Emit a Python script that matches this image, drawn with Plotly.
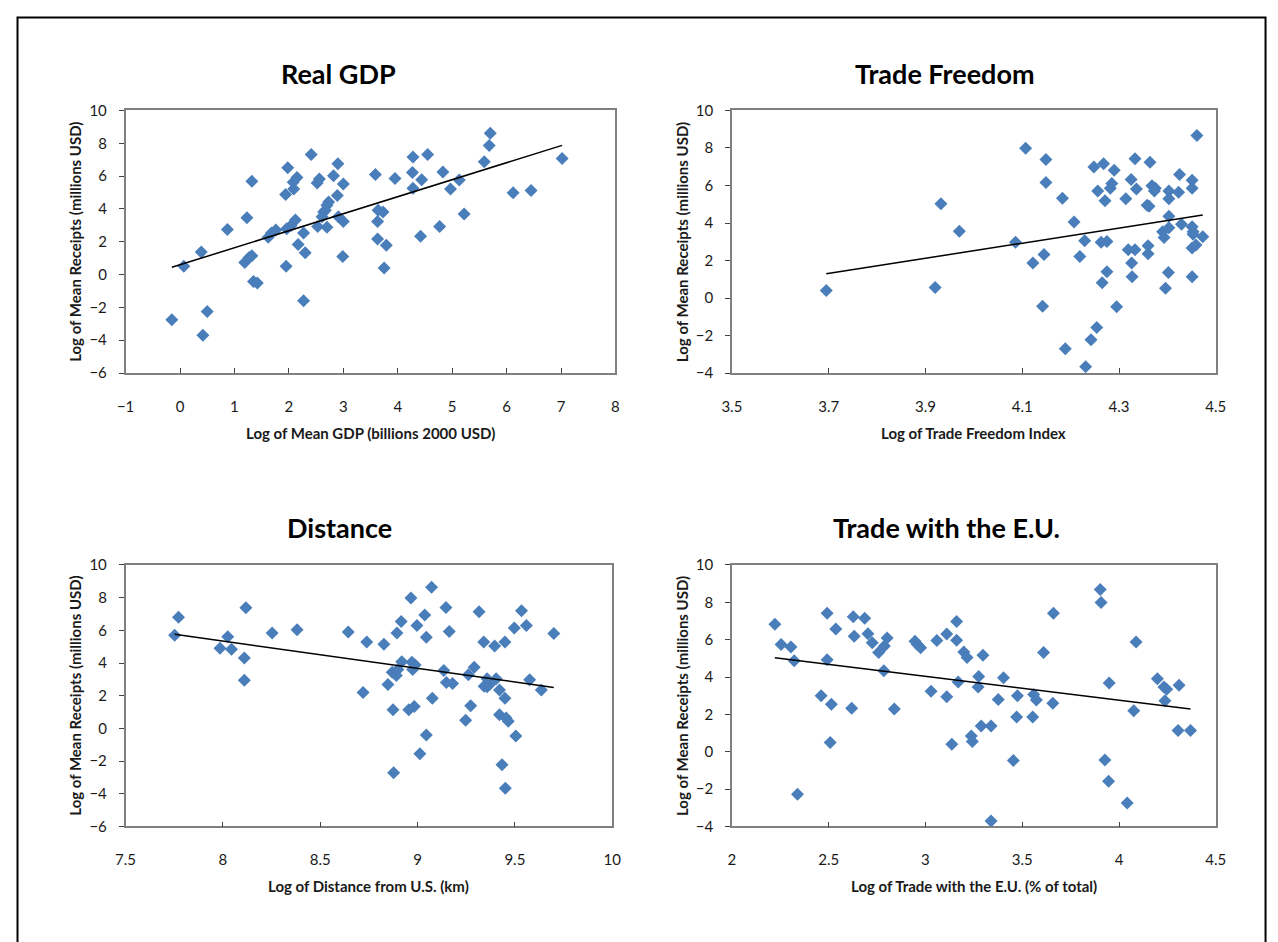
import numpy as np
import plotly.graph_objects as go

# ---------------- data ----------------
gdp_x = [-0.15, 0.07, 0.39, 0.42, 0.50, 0.87, 1.23, 1.32, 1.19, 1.27, 1.32, 1.35, 1.42, 1.62, 1.68, 1.76,
         1.95, 1.94, 1.98, 1.96, 2.04, 2.08, 2.12, 2.15, 2.09, 2.17, 2.27, 2.30, 2.27, 2.41, 2.52, 2.56,
         2.53, 2.61, 2.64, 2.67, 2.70, 2.73, 2.70, 2.82, 2.90, 2.89, 2.91, 3.00, 3.00, 2.99, 3.59, 3.64,
         3.73, 3.63, 3.63, 3.79, 3.75, 3.95, 4.28, 4.27, 4.28, 4.44, 4.42, 4.55, 4.77, 4.83, 4.97, 5.13,
         5.22, 5.59, 5.68, 5.70, 6.12, 6.45, 7.02]
gdp_y = [-2.75, 0.50, 1.37, -3.70, -2.25, 2.75, 3.47, 5.68, 0.74, 1.04, 1.14, -0.42, -0.52, 2.27, 2.53, 2.71,
         0.50, 4.88, 6.51, 2.79, 2.99, 5.62, 3.33, 5.92, 5.22, 1.83, 2.53, 1.33, -1.59, 7.31, 5.58, 5.82,
         2.93, 3.53, 3.82, 3.92, 4.22, 4.42, 2.89, 6.02, 6.75, 4.82, 3.53, 5.52, 3.23, 1.10, 6.10, 3.92,
         3.82, 3.23, 2.17, 1.79, 0.40, 5.86, 7.17, 6.22, 5.26, 5.78, 2.33, 7.31, 2.93, 6.25, 5.22, 5.76,
         3.69, 6.87, 7.87, 8.61, 4.98, 5.12, 7.07]

tf_x = [3.695, 3.920, 3.932, 3.970, 4.107, 4.149, 4.149, 4.086, 4.122, 4.145, 4.142, 4.183, 4.207, 4.189,
        4.229, 4.219, 4.231, 4.242, 4.254, 4.248, 4.268, 4.256, 4.271, 4.263, 4.275, 4.275, 4.265, 4.285,
        4.282, 4.290, 4.295, 4.314, 4.319, 4.333, 4.326, 4.327, 4.325, 4.333, 4.336, 4.358, 4.362, 4.360,
        4.360, 4.364, 4.368, 4.375, 4.373, 4.403, 4.403, 4.423, 4.425, 4.403, 4.403, 4.390, 4.393, 4.402,
        4.396, 4.429, 4.451, 4.451, 4.451, 4.453, 4.453, 4.459, 4.451, 4.451, 4.461, 4.473]
tf_y = [0.40, 0.56, 5.03, 3.56, 7.99, 7.38, 6.16, 2.97, 1.87, 2.32, -0.44, 5.32, 4.05, -2.71,
        3.05, 2.22, -3.66, -2.22, -1.57, 6.98, 7.16, 5.71, 5.18, 2.97, 3.02, 1.40, 0.82, 6.11,
        5.85, 6.81, -0.47, 5.29, 2.58, 2.58, 1.87, 1.13, 6.32, 7.42, 5.81, 4.94, 4.89, 2.79,
        2.36, 7.24, 5.99, 5.85, 5.71, 5.71, 5.29, 5.64, 6.58, 4.36, 3.75, 3.53, 3.23, 1.36,
        0.52, 3.93, 6.28, 5.85, 3.80, 3.53, 3.40, 2.83, 2.67, 1.13, 8.67, 3.26]

dist_x = [7.752, 7.772, 7.985, 8.025, 8.044, 8.110, 8.110, 8.118, 8.253, 8.381, 8.644, 8.720, 8.739, 8.827,
          8.848, 8.870, 8.874, 8.877, 8.891, 8.894, 8.899, 8.916, 8.919, 8.955, 8.966, 8.971, 8.975, 8.983,
          8.988, 8.997, 9.012, 9.037, 9.045, 9.045, 9.072, 9.076, 9.135, 9.146, 9.148, 9.163, 9.180, 9.247,
          9.261, 9.273, 9.291, 9.316, 9.340, 9.342, 9.357, 9.357, 9.370, 9.396, 9.404, 9.421, 9.421, 9.434,
          9.449, 9.449, 9.451, 9.455, 9.466, 9.497, 9.505, 9.534, 9.559, 9.576, 9.636, 9.700]
dist_y = [5.70, 6.80, 4.90, 5.60, 4.84, 4.30, 2.94, 7.38, 5.84, 6.04, 5.90, 2.20, 5.28, 5.14,
          2.68, 3.44, 1.14, -2.72, 3.24, 5.84, 3.60, 6.54, 4.08, 1.14, 7.98, 4.04, 3.60, 1.34,
          3.88, 6.30, -1.56, 6.94, 5.58, -0.40, 8.64, 1.84, 3.54, 7.40, 2.80, 5.92, 2.74, 0.50,
          3.28, 1.38, 3.74, 7.14, 5.28, 2.58, 3.04, 2.54, 2.68, 5.04, 3.04, 2.34, 0.84, -2.22,
          1.84, 5.28, -3.66, 0.64, 0.44, 6.14, -0.46, 7.20, 6.30, 2.98, 2.34, 5.80]

eu_x = [2.222, 2.254, 2.305, 2.322, 2.339, 2.461, 2.492, 2.492, 2.514, 2.508, 2.537, 2.619, 2.627, 2.632,
        2.686, 2.703, 2.725, 2.758, 2.788, 2.802, 2.785, 2.839, 2.946, 2.958, 2.975, 3.029, 3.059, 3.110,
        3.110, 3.161, 3.161, 3.169, 3.136, 3.198, 3.215, 3.237, 3.242, 3.275, 3.272, 3.297, 3.288, 3.339,
        3.376, 3.403, 3.339, 3.454, 3.471, 3.475, 3.554, 3.559, 3.573, 3.610, 3.658, 3.661, 3.903, 3.907,
        3.927, 3.946, 3.949, 4.042, 4.076, 4.088, 4.198, 4.232, 4.246, 4.237, 4.310, 4.305, 4.369]
eu_y = [6.83, 5.74, 5.60, 4.87, -2.28, 2.99, 7.41, 4.92, 2.54, 0.49, 6.57, 2.33, 7.23, 6.18,
        7.15, 6.32, 5.83, 5.31, 5.66, 6.09, 4.34, 2.29, 5.92, 5.74, 5.57, 3.24, 5.95, 6.30,
        2.94, 6.97, 5.97, 3.73, 0.40, 5.34, 5.04, 0.84, 0.54, 4.03, 3.47, 5.17, 1.37, 1.37,
        2.80, 3.96, -3.71, -0.47, 1.86, 2.99, 1.86, 3.06, 2.77, 5.31, 2.59, 7.41, 8.69, 7.99,
        -0.44, -1.58, 3.68, -2.75, 2.19, 5.87, 3.91, 3.47, 3.35, 2.73, 3.56, 1.14, 1.14]

panel_titles = ["Real GDP", "Trade Freedom", "Distance", "Trade with the E.U."]
x_titles = ["Log of Mean GDP (billions 2000 USD)", "Log of Trade Freedom Index",
            "Log of Distance from U.S. (km)", "Log of Trade with the E.U. (% of total)"]
y_title = "Log of Mean Receipts (millions USD)"

x_ranges = [(-1, 8), (3.5, 4.5), (7.5, 10), (2, 4.5)]
x_dticks = [1, 0.2, 0.5, 0.5]
y_ranges = [(-6, 10), (-4, 10), (-6, 10), (-4, 10)]

series = [(gdp_x, gdp_y), (tf_x, tf_y), (dist_x, dist_y), (eu_x, eu_y)]

# ---------------- layout geometry (window pixels) ----------------
OFF = 8                       # default body margin of the page
W, H = 1278 - OFF, 942 - OFF  # figure size so the page fits the window
boxes = [(117.3, 615.0, 102.3, 370.0),
         (733.3, 1225.0, 102.3, 370.0),
         (117.3, 611.7, 565.7, 832.3),
         (733.3, 1225.0, 565.7, 832.3)]
title_pos = [(334, 65), (950, 65), (335, 528), (951, 528)]
ytitle_x = [66, 682, 66, 682]


def px(x):
    return (x - OFF) / W


def py(y):
    return 1 - (y - OFF) / H


FONT = "Lato, 'Open Sans', sans-serif"
MARK = "#4A7EBB"
AXC = "#808080"
TXT = "#1a1a1a"

fig = go.Figure()
layout = dict(
    width=W, height=H,
    margin=dict(l=0, r=0, t=0, b=0),
    paper_bgcolor="white", plot_bgcolor="white",
    showlegend=False,
    font=dict(family=FONT, size=14, color=TXT),
)
annotations = []

for i, ((xs, ys), (l, r, t, b)) in enumerate(zip(series, boxes)):
    k = "" if i == 0 else str(i + 1)
    xa, ya = "x" + k, "y" + k
    fig.add_trace(go.Scatter(
        x=xs, y=ys, mode="markers", xaxis=xa, yaxis=ya,
        marker=dict(symbol="diamond", size=10, color=MARK, line=dict(width=0)),
        hoverinfo="x+y"))
    # linear trend (least squares)
    coef = np.polyfit(xs, ys, 1)
    tx = np.array([min(xs), max(xs)])
    fig.add_trace(go.Scatter(
        x=tx, y=np.polyval(coef, tx), mode="lines", xaxis=xa, yaxis=ya,
        line=dict(color="black", width=1.5), hoverinfo="skip"))

    layout["xaxis" + k] = dict(
        domain=[px(l), px(r)], anchor=ya, range=list(x_ranges[i]),
        tick0=x_ranges[i][0], dtick=x_dticks[i], tickmode="linear",
        showgrid=False, zeroline=False,
        showline=True, linecolor=AXC, linewidth=1.5, mirror=True,
        ticks="inside", ticklen=5, tickcolor="#404040", tickwidth=1,
        ticklabelstandoff=19,
        tickfont=dict(family=FONT, size=15, color=TXT))
    layout["yaxis" + k] = dict(
        domain=[py(b), py(t)], anchor=xa, range=list(y_ranges[i]),
        tick0=y_ranges[i][0], dtick=2, tickmode="linear",
        showgrid=False, zeroline=False,
        showline=True, linecolor=AXC, linewidth=1.5, mirror=True,
        ticks="outside", ticklen=5, tickcolor="#404040", tickwidth=1,
        ticklabelstandoff=9,
        tickfont=dict(family=FONT, size=15, color=TXT))

    # panel title
    annotations.append(dict(
        text="<b>" + panel_titles[i] + "</b>", x=px(title_pos[i][0]), y=py(title_pos[i][1]),
        xref="paper", yref="paper", xanchor="center", yanchor="middle", showarrow=False,
        font=dict(family=FONT, size=27, color="black")))
    # x-axis title
    annotations.append(dict(
        text="<b>" + x_titles[i] + "</b>", x=px((l + r) / 2), y=py(b + 61),
        xref="paper", yref="paper", xanchor="center", yanchor="middle", showarrow=False,
        font=dict(family=FONT, size=15, color=TXT)))
    # y-axis title
    annotations.append(dict(
        text="<b>" + y_title + "</b>", x=px(ytitle_x[i]), y=py((t + b) / 2), textangle=-90,
        xref="paper", yref="paper", xanchor="center", yanchor="middle", showarrow=False,
        font=dict(family=FONT, size=15, color=TXT)))

layout["annotations"] = annotations
layout["shapes"] = [dict(type="rect", xref="paper", yref="paper",
                         x0=px(7.5), x1=px(1275.5), y0=py(960), y1=py(7.5),
                         line=dict(color="black", width=2), fillcolor="rgba(0,0,0,0)",
                         layer="below")]
fig.update_layout(**layout)

fig.write_html("out.html", config={"displayModeBar": False})
